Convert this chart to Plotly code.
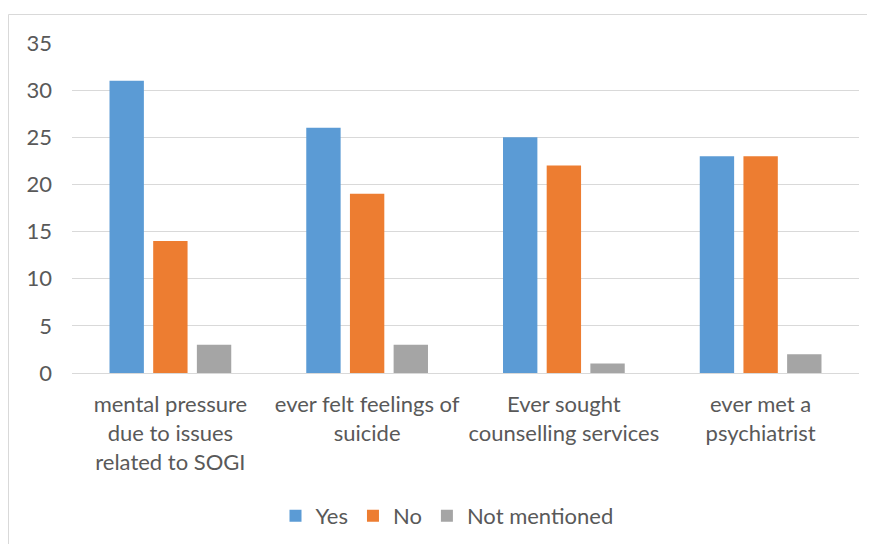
import plotly.graph_objects as go

categories = ["mental pressure<br>due to issues<br>related to SOGI",
              "ever felt feelings of<br>suicide",
              "Ever sought<br>counselling services",
              "ever met a<br>psychiatrist"]
yes_vals = [31, 26, 25, 23]
no_vals = [14, 19, 22, 23]
nm_vals = [3, 3, 1, 2]
series_names = ["Yes", "No", "Not mentioned"]
colors = ["#5B9BD5", "#ED7D31", "#A5A5A5"]
y_ticks = [0, 5, 10, 15, 20, 25, 30, 35]

FONT = "Lato, Calibri, Carlito, sans-serif"
TXT = "#595959"
FS = 22

fig = go.Figure()
for name, vals, c in zip(series_names, [yes_vals, no_vals, nm_vals], colors):
    fig.add_trace(go.Bar(x=categories, y=vals, name=name, marker_color=c,
                         marker_line_width=0))

# page has an 8px body margin; figure coordinates = screen - 8
OFF = 8
W, H = 875 - OFF, 544 - OFF
L, T = 72 - OFF, 43 - OFF
R = W - (859 - OFF)
B = H - (373 - OFF)
pw, ph = W - L - R, H - T - B

fig.update_layout(
    width=W, height=H,
    margin=dict(l=L, r=R, t=T, b=B, pad=0, autoexpand=False),
    paper_bgcolor="white", plot_bgcolor="white",
    barmode="group", bargap=0.334, bargroupgap=0.213,
    font=dict(family=FONT, size=FS, color=TXT),
    showlegend=True,
    legend=dict(orientation="h", x=(447 - OFF) / W, xanchor="center", xref="container",
                y=(H - (516 - OFF)) / H, yanchor="middle", yref="container",
                font=dict(size=FS, color=TXT), itemsizing="constant",
                traceorder="normal"),
    xaxis=dict(showgrid=False, showline=True, linecolor="#D9D9D9", linewidth=1,
               ticks="", ticklabelstandoff=12,
               tickfont=dict(size=FS, color=TXT), automargin=False),
    yaxis=dict(range=[0, 35], tickvals=y_ticks, showgrid=True,
               gridcolor="#D9D9D9", gridwidth=1, zeroline=False,
               showline=False, ticks="", ticklabelstandoff=19,
               tickfont=dict(size=FS, color=TXT), automargin=False),
)

fig.add_shape(type="rect", xref="paper", yref="paper",
              x0=(8 - OFF - L + 0.5) / pw, x1=(W + 10 - L) / pw,
              y0=(T + ph - (H + 10)) / ph, y1=1 + (T - (14 - OFF) - 0.5) / ph,
              line=dict(color="#D9D9D9", width=1), fillcolor="rgba(0,0,0,0)",
              layer="below")

fig.write_html("out.html")
